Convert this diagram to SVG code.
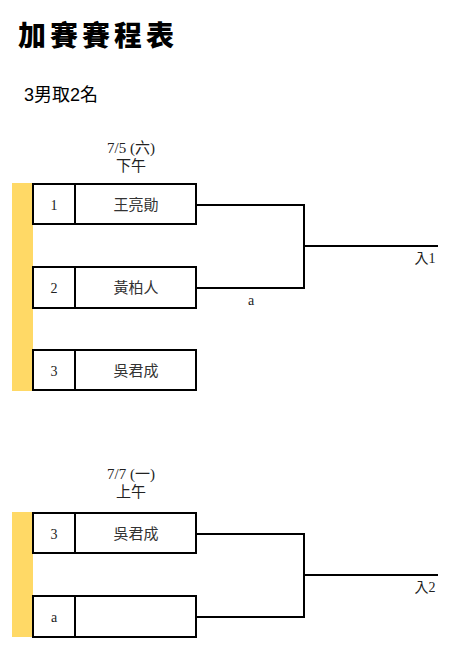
<svg xmlns="http://www.w3.org/2000/svg" width="463" height="660" viewBox="0 0 463 660">
<style>
.t{font-family:"Liberation Serif","Noto Sans CJK TC",serif;fill:#222;font-size:14px;text-anchor:middle}
.d{font-family:"Liberation Serif","Noto Sans CJK TC",serif;fill:#222;font-size:15px;text-anchor:middle}
.n{font-family:"Liberation Serif","Noto Sans CJK TC",serif;fill:#333;font-size:15px;text-anchor:middle}
.box{fill:#fff;stroke:#000;stroke-width:2}
.bar{fill:#FFD966}
.ln{fill:none;stroke:#000;stroke-width:2}
</style>
<rect width="463" height="660" fill="#fff"/>
<text x="18" y="46" font-family="'Noto Sans CJK TC',sans-serif" font-weight="900" font-size="28" letter-spacing="4" fill="#000">加賽賽程表</text>
<text x="24" y="101" font-family="'Liberation Sans','Noto Sans CJK TC',sans-serif" font-size="18" fill="#000">3男取2名</text>

<g id="section1">
<rect class="bar" x="12" y="183" width="21" height="208"/>
<text class="d" x="131" y="153">7/5 (六)</text>
<text class="d" x="131" y="171">下午</text>
</g>
<g id="n1"><rect class="box" x="33" y="184" width="163" height="40"/><line class="ln" x1="75" y1="184" x2="75" y2="224"/><text class="t" x="54" y="210">1</text><text class="n" x="136" y="210">王亮勛</text></g>
<g id="n2"><rect class="box" x="33" y="267" width="163" height="41"/><line class="ln" x1="75" y1="267" x2="75" y2="308"/><text class="t" x="54" y="293">2</text><text class="n" x="136" y="293">黃柏人</text></g>
<g id="n3"><rect class="box" x="33" y="350" width="163" height="40"/><line class="ln" x1="75" y1="350" x2="75" y2="390"/><text class="t" x="54" y="376">3</text><text class="n" x="136" y="376">吳君成</text></g>

<g id="section2">
<rect class="bar" x="12" y="512" width="21" height="125"/>
<text class="d" x="131" y="479">7/7 (一)</text>
<text class="d" x="131" y="497">上午</text>
</g>
<g id="n4"><rect class="box" x="33" y="513" width="163" height="40"/><line class="ln" x1="75" y1="513" x2="75" y2="553"/><text class="t" x="54" y="539">3</text><text class="n" x="136" y="539">吳君成</text></g>
<g id="n5"><rect class="box" x="33" y="596" width="163" height="41"/><line class="ln" x1="75" y1="596" x2="75" y2="637"/><text class="t" x="54" y="622">a</text></g>

<g id="connectors">
<polyline class="ln" points="196,205 304,205 304,288 196,288"/>
<line class="ln" x1="304" y1="246" x2="438" y2="246"/>
<polyline class="ln" points="196,534 304,534 304,617 196,617"/>
<line class="ln" x1="304" y1="575" x2="438" y2="575"/>
<text class="t" x="251" y="305">a</text>
<text class="t" x="425" y="263">入1</text>
<text class="t" x="425" y="592">入2</text>
</g>
</svg>
